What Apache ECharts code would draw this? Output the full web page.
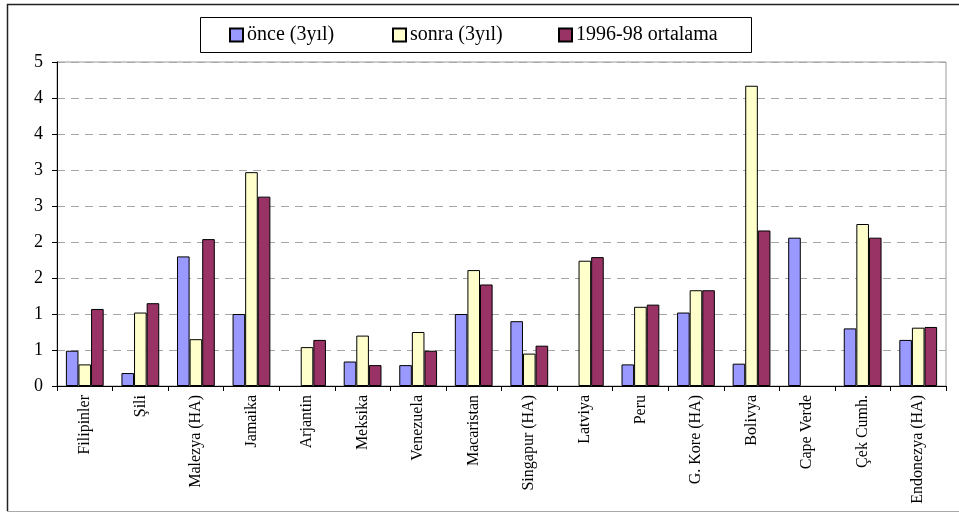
<!DOCTYPE html>
<html>
<head>
<meta charset="utf-8">
<script src="https://cdn.jsdelivr.net/npm/echarts@6/dist/echarts.min.js"></script>
<style>
  html, body { margin: 0; padding: 0; background: #fff; }
  #chart { width: 959px; height: 513px; }
</style>
</head>
<body>
<div id="chart"></div>
<script>
// Country categories along the x axis
const categories = ['Filipinler', 'Şili', 'Malezya (HA)', 'Jamaika', 'Arjantin', 'Meksika',
  'Venezuela', 'Macaristan', 'Singapur (HA)', 'Latviya', 'Peru', 'G. Kore (HA)',
  'Bolivya', 'Cape Verde', 'Çek Cumh.', 'Endonezya (HA)'];

// Series names
const seriesNames = ['önce (3yıl)', 'sonra (3yıl)', '1996-98 ortalama'];

// Values per series (null = no bar)
const onceValues = [0.49, 0.18, 1.80, 1.00, null, 0.34, 0.29, 1.00, 0.90, null, 0.30, 1.02, 0.31, 2.06, 0.80, 0.64];
const sonraValues = [0.30, 1.02, 0.65, 2.97, 0.54, 0.70, 0.75, 1.61, 0.45, 1.74, 1.10, 1.33, 4.17, null, 2.25, 0.81];
const ortalamaValues = [1.07, 1.15, 2.04, 2.63, 0.64, 0.29, 0.49, 1.41, 0.56, 1.79, 1.13, 1.33, 2.16, null, 2.06, 0.82];

// Value axis range
const yMin = 0;
const yMax = 4.5;
const yStep = 0.5;

const colors = ['#9999FF', '#FFFFCC', '#993366'];
const serif = '"Liberation Serif", "DejaVu Serif", serif';

const chart = echarts.init(document.getElementById('chart'), null, { renderer: 'canvas' });

function makeSeries(name, data, color) {
  return {
    name: name,
    type: 'bar',
    data: data,
    barGap: 0,
    barCategoryGap: '32%',
    itemStyle: { color: color, borderColor: '#000', borderWidth: 1 }
  };
}

function makeLegend(name, left) {
  return {
    data: [name],
    left: left,
    top: 25,
    padding: 0,
    itemWidth: 13,
    itemHeight: 13,
    itemGap: 0,
    icon: 'rect',
    textStyle: { fontFamily: serif, fontSize: 20, color: '#000', padding: [0, 0, 0, -1] },
    selectedMode: false
  };
}

chart.setOption({
  animation: false,
  backgroundColor: '#fff',
  graphic: [
    // outer frame
    { type: 'line', shape: { x1: 7, y1: 4.5, x2: 959, y2: 4.5 }, style: { stroke: '#222', lineWidth: 1.5 } },
    { type: 'line', shape: { x1: 7.5, y1: 4, x2: 7.5, y2: 511 }, style: { stroke: '#222', lineWidth: 1.5 } },
    { type: 'line', shape: { x1: 7, y1: 511.5, x2: 959, y2: 511.5 }, style: { stroke: '#aaa', lineWidth: 1 } },
    // legend box
    { type: 'rect', shape: { x: 200.5, y: 17.5, width: 551, height: 35 }, style: { fill: '#fff', stroke: '#000', lineWidth: 1 }, z: -1 }
  ],
  legend: [
    makeLegend(seriesNames[0], 229),
    makeLegend(seriesNames[1], 392),
    makeLegend(seriesNames[2], 558)
  ],
  grid: {
    left: 57, right: 13, top: 62, bottom: 127,
    show: true, borderColor: '#999', borderWidth: 1, backgroundColor: 'transparent'
  },
  xAxis: {
    type: 'category',
    data: categories,
    boundaryGap: true,
    axisLine: { lineStyle: { color: '#000', width: 1 } },
    axisTick: { show: true, length: 5, lineStyle: { color: '#000' } },
    axisLabel: {
      rotate: 90, margin: 9, interval: 0,
      fontFamily: serif, fontSize: 16, color: '#000'
    }
  },
  yAxis: {
    type: 'value',
    min: yMin, max: yMax, interval: yStep,
    axisLine: { show: true, lineStyle: { color: '#000', width: 1 } },
    axisTick: { show: true, length: 5, lineStyle: { color: '#000' } },
    axisLabel: {
      margin: 14, fontFamily: serif, fontSize: 18, color: '#000',
      formatter: v => String(Math.round(v))
    },
    splitLine: { show: true, lineStyle: { color: '#a6a6a6', type: [8, 6], width: 1 } }
  },
  series: [
    makeSeries(seriesNames[0], onceValues, colors[0]),
    makeSeries(seriesNames[1], sonraValues, colors[1]),
    makeSeries(seriesNames[2], ortalamaValues, colors[2])
  ]
});
</script>
</body>
</html>
